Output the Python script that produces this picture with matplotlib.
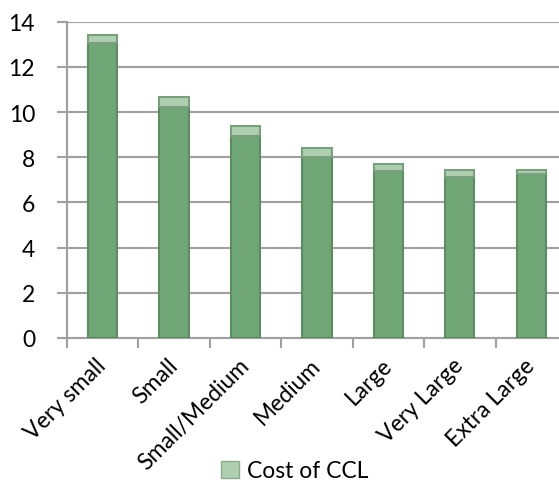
import numpy as np
import matplotlib.pyplot as plt
from matplotlib.patches import Patch

plt.rcParams['font.family'] = ['Lato', 'DejaVu Sans']

# company size bands and cost of CCL (top of each bar and top of the darker body)
categories = ['Very small', 'Small', 'Small/Medium', 'Medium', 'Large', 'Very Large', 'Extra Large']
cost_total = [13.4, 10.68, 9.37, 8.39, 7.69, 7.42, 7.45]
cost_body = [13.05, 10.24, 8.93, 8.0, 7.40, 7.12, 7.26]
y_ticks = [0, 2, 4, 6, 8, 10, 12, 14]

body_col = '#71A676'
cap_col = '#AECFB0'
edge_col = '#5E8B62'
grid_col = '#A0A0A0'
fs = 16.5

W, H = 559, 481
fig = plt.figure(figsize=(W / 100, H / 100), dpi=100)
# axes run a little past the right edge, so the last category is cut off
left, right, bottom, top = 67, 567, 339, 22.7
ax = fig.add_axes([left / W, (H - bottom) / H, (right - left) / W, (bottom - top) / H])

x = np.arange(len(categories))
caps = np.array(cost_total) - np.array(cost_body)
ax.bar(x, cost_body, width=0.41, color=body_col, edgecolor=edge_col, linewidth=1.5, zorder=3)
ax.bar(x, caps, bottom=cost_body, width=0.41, color=cap_col, edgecolor='#7A9F7E', linewidth=1.5, zorder=3)

ax.set_xlim(-0.5, len(categories) - 0.5)
ax.set_ylim(0, 14)
ax.set_yticks(y_ticks)
ax.yaxis.grid(True, color=grid_col, linewidth=1.5, zorder=0)
ax.set_axisbelow(True)

for s in ['top', 'right']:
    ax.spines[s].set_visible(False)
for s in ['left', 'bottom']:
    ax.spines[s].set_color(grid_col)
    ax.spines[s].set_linewidth(1.5)

ax.tick_params(axis='y', direction='out', length=7, width=1.5, color=grid_col,
               labelsize=fs, pad=16, labelcolor='black')
# ticks sit between categories, labels at the centres
ax.set_xticks(np.arange(len(categories) + 1) - 0.5)
ax.set_xticklabels([])
ax.tick_params(axis='x', which='major', direction='out', length=7, width=1.5, color=grid_col)
ax.set_xticks(x, minor=True)
ax.set_xticklabels(categories, minor=True, rotation=45, ha='right', va='center',
                   rotation_mode='anchor', fontsize=fs)
ax.tick_params(axis='x', which='minor', length=0, pad=17)

handles = [Patch(facecolor=cap_col, edgecolor='#8FA891', label='Cost of CCL')]
fig.legend(handles=handles, loc='center', bbox_to_anchor=(295 / W, (H - 472) / H),
           frameon=False, fontsize=fs, handlelength=0.8, handleheight=0.8,
           handletextpad=0.35, borderpad=0)

fig.savefig('out.png', dpi=100)
